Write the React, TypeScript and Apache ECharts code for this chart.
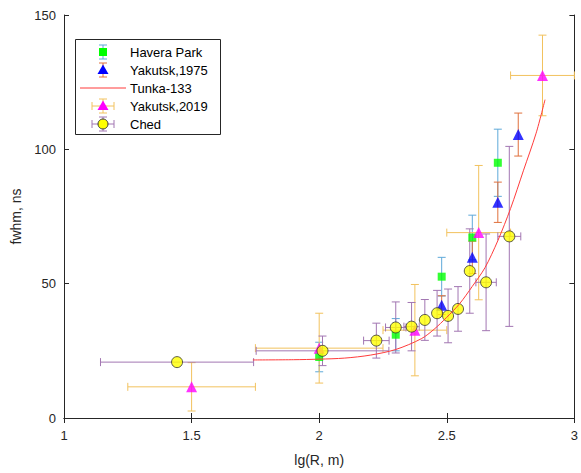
import React, { useEffect, useRef } from "react";
import * as echarts from "echarts";

// ---- Data ----
const haveraX = [2.0, 2.3, 2.48, 2.6, 2.7];
const haveraY = [22.7, 31, 52.6, 67.2, 95];
const haveraYErr = [5.5, 6, 7.2, 8.3, 12.5];

const yak75X = [2.48, 2.6, 2.7, 2.78];
const yak75Y = [42, 59.8, 80.3, 105.5];
const yak75YErr = [3.5, 6, 7.5, 8];

const tunkaX = [1.74, 1.9, 2.0, 2.1, 2.2, 2.3, 2.4, 2.45, 2.5, 2.55, 2.6, 2.65, 2.7, 2.75, 2.8, 2.85, 2.885];
const tunkaY = [21.6, 21.7, 21.9, 22.3, 23.4, 25.5, 29.5, 33, 37.5, 42.5, 49, 56, 66, 78, 92, 106, 118.5];

const yak19X = [1.5, 2.0, 2.375, 2.625, 2.875];
const yak19Y = [11.6, 26, 32.7, 69, 127.5];
const yak19XErr = [0.25, 0.25, 0.125, 0.125, 0.125];
const yak19YErr = [9, 13, 17, 25, 15];

const chedX = [1.443, 2.013, 2.224, 2.3, 2.362, 2.414, 2.462, 2.505, 2.544, 2.59, 2.654, 2.745];
const chedY = [20.8, 25, 28.8, 33.7, 34, 36.5, 39, 38, 40.6, 54.7, 50.5, 67.6];
const chedXErr = [0.3, 0.26, 0.05, 0.04, 0.03, 0, 0, 0, 0, 0, 0.04, 0.045];
const chedYErr = [0, 5.5, 6.5, 9.5, 9, 7.6, 8.5, 10, 8.3, 15.7, 18, 33.5];

const xTicks = [1, 1.5, 2, 2.5, 3];
const yTicks = [0, 50, 100, 150];

const legendNames = ["Havera Park", "Yakutsk,1975", "Tunka-133", "Yakutsk,2019", "Ched"];

const C_HAV_BAR = "#5ea9d9";
const C_Y75_BAR = "#e0703c";
const C_Y19_BAR = "#f2c25e";
const C_CHED_BAR = "#a276b2";
const AXIS = "#262626";
const FONT = "Liberation Sans, Arial, sans-serif";

function errRenderer(color: string) {
  return (params: any, api: any) => {
    const x = api.value(0);
    const y = api.value(1);
    const xe = api.value(2);
    const ye = api.value(3);
    const style = { stroke: color, lineWidth: 1 };
    const cap = 4;
    const children: any[] = [];
    if (ye > 0) {
      const t = api.coord([x, y + ye]);
      const b = api.coord([x, y - ye]);
      children.push({ type: "line", shape: { x1: t[0], y1: t[1], x2: b[0], y2: b[1] }, style });
      children.push({ type: "line", shape: { x1: t[0] - cap, y1: t[1], x2: t[0] + cap, y2: t[1] }, style });
      children.push({ type: "line", shape: { x1: b[0] - cap, y1: b[1], x2: b[0] + cap, y2: b[1] }, style });
    }
    if (xe > 0) {
      const l = api.coord([x - xe, y]);
      const r = api.coord([x + xe, y]);
      children.push({ type: "line", shape: { x1: l[0], y1: l[1], x2: r[0], y2: r[1] }, style });
      children.push({ type: "line", shape: { x1: l[0], y1: l[1] - cap, x2: l[0], y2: l[1] + cap }, style });
      children.push({ type: "line", shape: { x1: r[0], y1: r[1] - cap, x2: r[0], y2: r[1] + cap }, style });
    }
    return { type: "group", children };
  };
}

function zip(xs: number[], ys: number[]) {
  return xs.map((x, i) => [x, ys[i]]);
}
function zipErr(xs: number[], ys: number[], xe: number[] | null, ye: number[]) {
  return xs.map((x, i) => [x, ys[i], xe ? xe[i] : 0, ye[i]]);
}

function legendGraphic() {
  const rowY = [52, 70, 88, 106, 124];
  const cx = 103;
  const tx = 130;
  const els: any[] = [];
  els.push({
    type: "rect",
    shape: { x: 75.5, y: 39.5, width: 145, height: 95 },
    style: { fill: "#ffffff", stroke: AXIS, lineWidth: 1 },
  });
  const vbar = (y: number, color: string) => {
    const s = { stroke: color, lineWidth: 1 };
    els.push({ type: "line", shape: { x1: cx, y1: y - 7, x2: cx, y2: y + 7 }, style: s });
    els.push({ type: "line", shape: { x1: cx - 4, y1: y - 7, x2: cx + 4, y2: y - 7 }, style: s });
    els.push({ type: "line", shape: { x1: cx - 4, y1: y + 7, x2: cx + 4, y2: y + 7 }, style: s });
  };
  const hbar = (y: number, color: string) => {
    const s = { stroke: color, lineWidth: 1 };
    els.push({ type: "line", shape: { x1: cx - 11, y1: y, x2: cx + 11, y2: y }, style: s });
    els.push({ type: "line", shape: { x1: cx - 11, y1: y - 4, x2: cx - 11, y2: y + 4 }, style: s });
    els.push({ type: "line", shape: { x1: cx + 11, y1: y - 4, x2: cx + 11, y2: y + 4 }, style: s });
  };
  const tri = (y: number, color: string) => {
    els.push({
      type: "polygon",
      shape: { points: [[cx, y - 5.5], [cx + 5.5, y + 4], [cx - 5.5, y + 4]] },
      style: { fill: color },
    });
  };
  vbar(rowY[0], C_HAV_BAR);
  els.push({ type: "rect", shape: { x: cx - 4, y: rowY[0] - 4, width: 8, height: 8 }, style: { fill: "#00ff00" } });
  vbar(rowY[1], C_Y75_BAR);
  tri(rowY[1], "#0000ff");
  els.push({ type: "line", shape: { x1: 80, y1: rowY[2], x2: 126, y2: rowY[2] }, style: { stroke: "#ff3b3b", lineWidth: 1 } });
  vbar(rowY[3], C_Y19_BAR);
  hbar(rowY[3], C_Y19_BAR);
  tri(rowY[3], "#ff00ff");
  vbar(rowY[4], C_CHED_BAR);
  hbar(rowY[4], C_CHED_BAR);
  els.push({ type: "circle", shape: { cx, cy: rowY[4], r: 5 }, style: { fill: "#ffff00", stroke: "#333333", lineWidth: 1 } });
  legendNames.forEach((n, i) => {
    els.push({
      type: "text",
      x: tx,
      y: rowY[i],
      style: { text: n, fill: "#000000", font: `13px ${FONT}`, verticalAlign: "middle", align: "left" },
    });
  });
  return { type: "group", z: 100, children: els };
}

export default function App() {
  const ref = useRef<HTMLDivElement>(null);
  useEffect(() => {
    if (!ref.current) return;
    const chart = echarts.init(ref.current, null, { renderer: "svg" });
    const axisCommon = {
      axisLine: { show: true, lineStyle: { color: AXIS, width: 1 } },
      axisTick: { show: true, inside: true, length: 5, lineStyle: { color: AXIS } },
      splitLine: { show: false },
    };
    const xLabelFmt = (v: number) => (xTicks.includes(v) ? String(v) : "");
    const yLabelFmt = (v: number) => (yTicks.includes(v) ? String(v) : "");
    chart.setOption({
      animation: false,
      backgroundColor: "#ffffff",
      grid: { left: 64, right: 5, top: 15, bottom: 55, containLabel: false },
      xAxis: [
        {
          type: "value",
          min: 1,
          max: 3,
          interval: 0.5,
          ...axisCommon,
          axisLabel: { color: AXIS, fontSize: 13, fontFamily: FONT, margin: 11, formatter: xLabelFmt },
          name: "lg(R, m)",
          nameLocation: "middle",
          nameGap: 35,
          nameTextStyle: { color: AXIS, fontSize: 14, fontFamily: FONT },
        },
        {
          type: "value",
          position: "top",
          min: 1,
          max: 3,
          interval: 0.5,
          ...axisCommon,
          axisLabel: { show: false },
        },
      ],
      yAxis: [
        {
          type: "value",
          min: 0,
          max: 150,
          interval: 50,
          ...axisCommon,
          axisLabel: { color: AXIS, fontSize: 13, fontFamily: FONT, margin: 8, formatter: yLabelFmt },
          name: "fwhm, ns",
          nameLocation: "middle",
          nameGap: 34,
          nameTextStyle: { color: AXIS, fontSize: 14, fontFamily: FONT },
        },
        {
          type: "value",
          position: "right",
          min: 0,
          max: 150,
          interval: 50,
          ...axisCommon,
          axisLabel: { show: false },
        },
      ],
      series: [
        {
          type: "custom",
          name: "Havera Park err",
          renderItem: errRenderer(C_HAV_BAR),
          encode: { x: 0, y: 1 },
          data: zipErr(haveraX, haveraY, null, haveraYErr),
          silent: true,
        },
        {
          type: "scatter",
          name: "Havera Park",
          symbol: "rect",
          symbolSize: 8,
          itemStyle: { color: "#00ff00" },
          data: zip(haveraX, haveraY),
        },
        {
          type: "custom",
          name: "Yakutsk,1975 err",
          renderItem: errRenderer(C_Y75_BAR),
          encode: { x: 0, y: 1 },
          data: zipErr(yak75X, yak75Y, null, yak75YErr),
          silent: true,
        },
        {
          type: "scatter",
          name: "Yakutsk,1975",
          symbol: "triangle",
          symbolSize: 11,
          itemStyle: { color: "#0000ff" },
          data: zip(yak75X, yak75Y),
        },
        {
          type: "line",
          name: "Tunka-133",
          smooth: 0.3,
          showSymbol: false,
          lineStyle: { color: "#ff3b3b", width: 1 },
          data: zip(tunkaX, tunkaY),
        },
        {
          type: "custom",
          name: "Yakutsk,2019 err",
          renderItem: errRenderer(C_Y19_BAR),
          encode: { x: 0, y: 1 },
          data: zipErr(yak19X, yak19Y, yak19XErr, yak19YErr),
          silent: true,
        },
        {
          type: "scatter",
          name: "Yakutsk,2019",
          symbol: "triangle",
          symbolSize: 11,
          itemStyle: { color: "#ff00ff" },
          data: zip(yak19X, yak19Y),
        },
        {
          type: "custom",
          name: "Ched err",
          renderItem: errRenderer(C_CHED_BAR),
          encode: { x: 0, y: 1 },
          data: zipErr(chedX, chedY, chedXErr, chedYErr),
          silent: true,
        },
        {
          type: "scatter",
          name: "Ched",
          symbol: "circle",
          symbolSize: 11,
          itemStyle: { color: "#ffff00", borderColor: "#333333", borderWidth: 1 },
          data: zip(chedX, chedY),
        },
      ],
      graphic: [legendGraphic()],
    });
    return () => chart.dispose();
  }, []);
  return (
    <div
      ref={ref}
      style={{ position: "fixed", left: 0, top: 0, width: 581, height: 473, background: "#fff" }}
    />
  );
}
